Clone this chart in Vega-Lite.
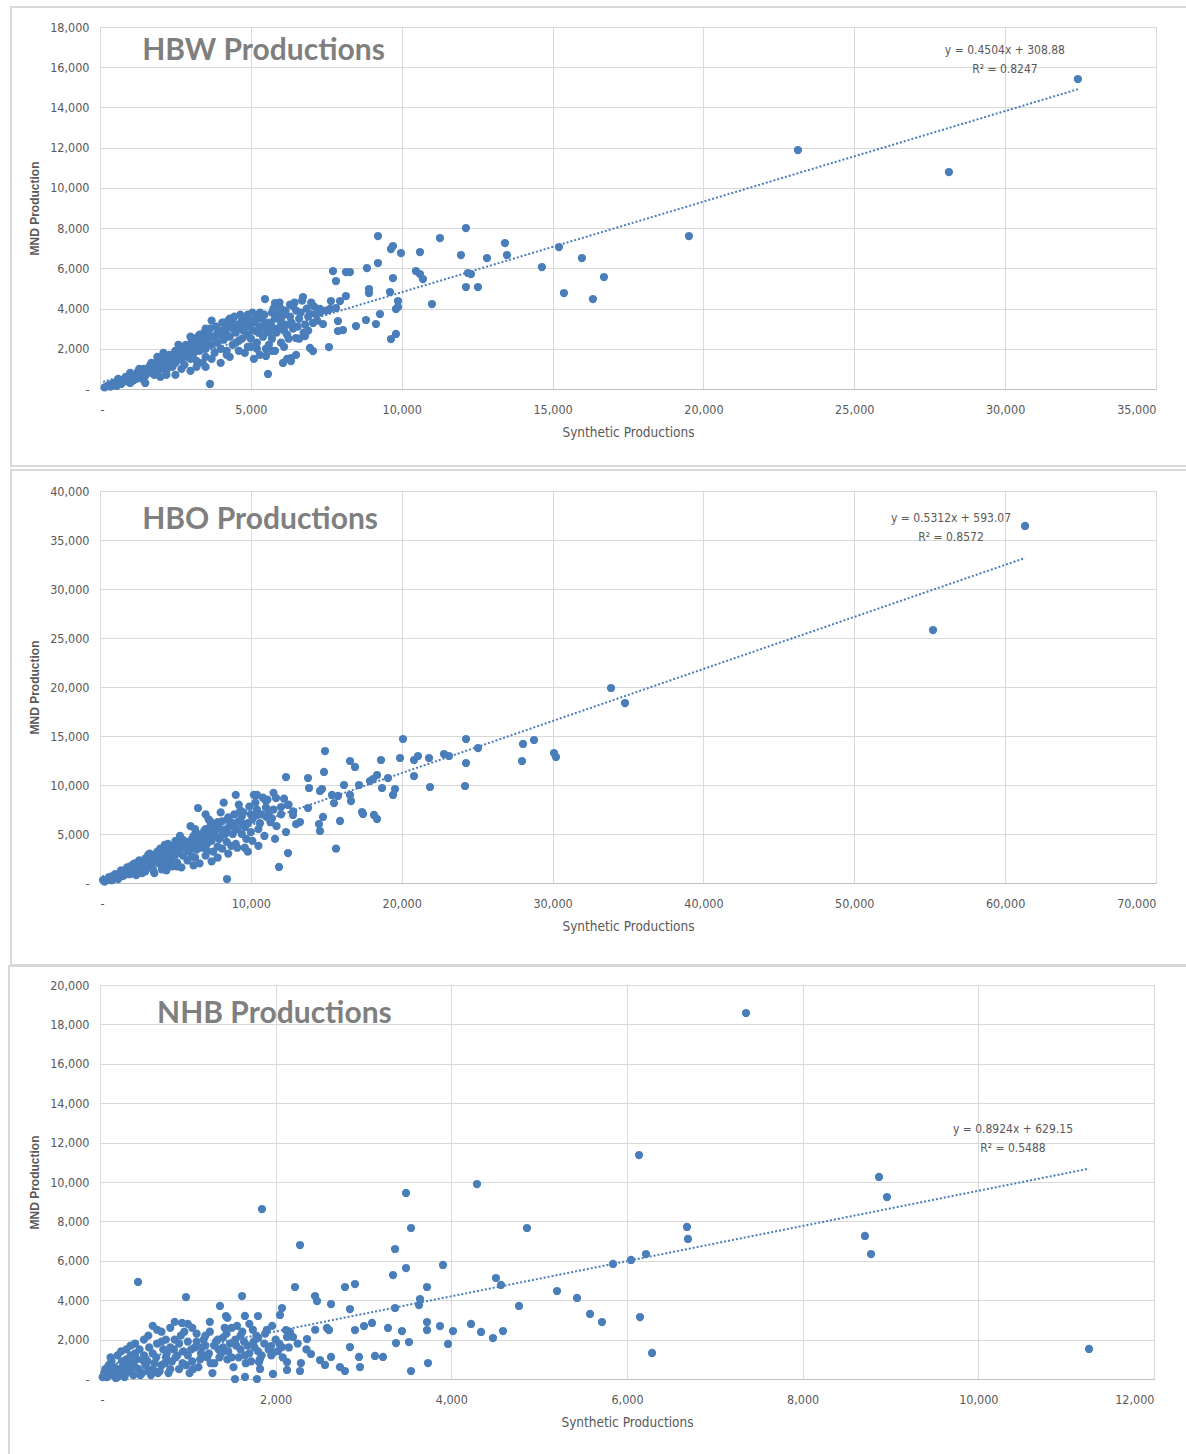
{
  "$schema": "https://vega.github.io/schema/vega-lite/v6.json",
  "background": "white",
  "padding": {"left": 7, "top": 5, "right": 0, "bottom": 0},
  "autosize": {"type": "pad"},
  "spacing": 102,
  "bounds": "flush",
  "config": {
    "view": {"stroke": "#d9d9d9"},
    "axis": {
      "grid": true, "gridColor": "#d9d9d9", "ticks": false, "labelOverlap": false, "tickCount": 30,
      "labelFont": "Liberation Sans Narrow, DejaVu Sans Condensed, Roboto Condensed, Roboto, sans-serif", "labelFontSize": 12.5, "labelColor": "#595959",
      "titleColor": "#595959"
    },
    "axisX": {"domainColor": "#bfbfbf", "labelPadding": 14, "titlePadding": 10, "titleFont": "Liberation Sans Narrow, DejaVu Sans Condensed, Roboto Condensed, Roboto, sans-serif", "titleFontSize": 13.5, "titleFontWeight": "normal"},
    "axisY": {"domainColor": "#d9d9d9", "labelPadding": 11, "titlePadding": 8, "titleFont": "Liberation Sans, sans-serif", "titleFontSize": 12, "titleFontWeight": "bold"}
  },
  "datasets": {
    "hbw": [
      {"x":150,"y":80},{"x":250,"y":150},{"x":350,"y":120},{"x":400,"y":250},{"x":500,"y":200},{"x":600,"y":350},{"x":700,"y":250},{"x":800,"y":450},{"x":900,"y":380},{"x":1000,"y":550},{"x":1100,"y":420},{"x":1200,"y":700},{"x":1300,"y":600},{"x":1400,"y":800},{"x":1500,"y":650},{"x":1600,"y":950},{"x":1700,"y":800},{"x":1800,"y":1100},{"x":1900,"y":900},{"x":2000,"y":1250},{"x":2100,"y":1000},{"x":2200,"y":1400},{"x":2300,"y":1150},{"x":2400,"y":1500},{"x":2500,"y":1300},{"x":2600,"y":1700},{"x":2700,"y":1450},{"x":2800,"y":1900},{"x":2900,"y":1600},{"x":3000,"y":2100},{"x":3100,"y":1750},{"x":3200,"y":2300},{"x":3300,"y":1900},{"x":3400,"y":2500},{"x":3500,"y":2000},{"x":3600,"y":2700},{"x":3700,"y":2200},{"x":3800,"y":2600},{"x":3900,"y":2300},{"x":4000,"y":2900},{"x":4100,"y":2450},{"x":4200,"y":3100},{"x":4300,"y":2600},{"x":4400,"y":3300},{"x":4500,"y":2800},{"x":4600,"y":3000},{"x":4700,"y":2500},{"x":4800,"y":3200},{"x":4900,"y":2700},{"x":5000,"y":3400},{"x":5100,"y":2900},{"x":5200,"y":3600},{"x":5300,"y":3100},{"x":5400,"y":2600},{"x":5500,"y":3300},{"x":5600,"y":2800},{"x":5700,"y":3800},{"x":5800,"y":3500},{"x":5900,"y":3000},{"x":6000,"y":4000},{"x":6100,"y":3700},{"x":6200,"y":3200},{"x":6300,"y":4200},{"x":6500,"y":3900},{"x":6700,"y":4400},{"x":6900,"y":3600},{"x":7100,"y":4100},{"x":7300,"y":3800},
      {"x":1500,"y":300},{"x":2000,"y":600},{"x":2500,"y":700},{"x":3000,"y":900},{"x":3500,"y":1100},{"x":4000,"y":1300},{"x":4300,"y":1600},{"x":4800,"y":1800},{"x":5100,"y":1500},{"x":5600,"y":2200},{"x":5800,"y":1900},{"x":6000,"y":2300},{"x":6200,"y":1500},{"x":6500,"y":1700},{"x":5568,"y":746},{"x":3645,"y":249},{"x":5501,"y":1641},{"x":6065,"y":1293},{"x":6330,"y":1541},{"x":6330,"y":1392},
      {"x":1000,"y":300},{"x":1200,"y":500},{"x":1500,"y":900},{"x":1800,"y":700},{"x":2000,"y":1500},{"x":2200,"y":900},{"x":2500,"y":1900},{"x":2800,"y":1200},{"x":3000,"y":1500},{"x":3200,"y":1400},{"x":3300,"y":2700},{"x":3500,"y":1600},{"x":3600,"y":2300},{"x":3800,"y":1800},{"x":4000,"y":2000},{"x":4100,"y":3300},{"x":4200,"y":1900},{"x":4400,"y":2200},{"x":4600,"y":2400},{"x":4700,"y":3400},{"x":4900,"y":2100},{"x":5000,"y":2500},{"x":5200,"y":2300},{"x":5300,"y":3800},{"x":5500,"y":2000},{"x":5700,"y":2500},{"x":5800,"y":4100},{"x":6000,"y":3300},{"x":6200,"y":2700},{"x":6400,"y":3000},{"x":6600,"y":3500},{"x":6800,"y":3200},{"x":7000,"y":4300},
      {"x":2300,"y":1700},{"x":2700,"y":2000},{"x":3100,"y":2500},{"x":3400,"y":1300},{"x":3900,"y":2800},{"x":4300,"y":3500},{"x":4500,"y":2300},{"x":4900,"y":3700},{"x":5100,"y":3300},{"x":5400,"y":3000},{"x":5900,"y":3700},{"x":6300,"y":3600},{"x":1300,"y":1000},{"x":1700,"y":1300},{"x":2100,"y":1800},{"x":2600,"y":2200},{"x":3000,"y":2600},{"x":3500,"y":3000},{"x":3700,"y":3400},{"x":4200,"y":2700},{"x":4400,"y":3000},{"x":5200,"y":2000},{"x":5700,"y":3100},{"x":6100,"y":2900},{"x":6600,"y":2500},{"x":6900,"y":2900},{"x":7200,"y":3400},{"x":7500,"y":3900},
      {"x":300,"y":200},{"x":450,"y":300},{"x":550,"y":150},{"x":650,"y":450},{"x":750,"y":350},{"x":850,"y":600},{"x":950,"y":500},{"x":1050,"y":700},{"x":1150,"y":600},{"x":1250,"y":850},{"x":1350,"y":750},{"x":1450,"y":1000},{"x":1550,"y":850},{"x":1650,"y":1150},{"x":1750,"y":1000},{"x":1850,"y":1300},{"x":1950,"y":1100},{"x":2050,"y":1400},{"x":2150,"y":1200},{"x":2250,"y":1600},{"x":2350,"y":1350},{"x":2450,"y":1750},{"x":2550,"y":1550},{"x":2650,"y":1950},{"x":2750,"y":1700},{"x":2850,"y":2200},{"x":2950,"y":1850},{"x":3050,"y":2400},{"x":3150,"y":2050},{"x":3250,"y":2600},{"x":3350,"y":2200},{"x":3450,"y":2800},{"x":3550,"y":2400},{"x":3650,"y":3000},{"x":3750,"y":2600},{"x":3850,"y":3100},{"x":3950,"y":2700},{"x":4050,"y":3300},{"x":4150,"y":2900},{"x":4250,"y":3400},{"x":4350,"y":3100},{"x":4450,"y":3600},{"x":4550,"y":3200},{"x":4650,"y":3700},{"x":4750,"y":2900},{"x":4850,"y":3500},{"x":4950,"y":3100},{"x":5050,"y":3800},{"x":5150,"y":3400},{"x":5250,"y":2800},{"x":5350,"y":3500},{"x":5450,"y":3700},{"x":5550,"y":3000},{"x":5650,"y":3300},{"x":5750,"y":4000},{"x":5850,"y":2800},{"x":5950,"y":4300},{"x":6050,"y":3100},{"x":6150,"y":3900},{"x":6250,"y":2500},{"x":6350,"y":3300},{"x":6450,"y":4300},{"x":6550,"y":3100},{"x":6650,"y":3800},{"x":6750,"y":2800},{"x":6850,"y":4000},{"x":2200,"y":700},{"x":2700,"y":1000},{"x":3200,"y":1100},{"x":3700,"y":1500},{"x":4200,"y":1700},{"x":4600,"y":1900},{"x":5000,"y":2100},{"x":5300,"y":1700},{"x":5700,"y":1900},{"x":6100,"y":2100},{"x":1000,"y":800},{"x":600,"y":500},{"x":1400,"y":500},{"x":1900,"y":1600},{"x":2400,"y":1100},
      {"x":5800,"y":4276},{"x":5468,"y":4475},{"x":6727,"y":4574},{"x":6396,"y":4127},{"x":5998,"y":3480},
      {"x":9213,"y":7607},{"x":9710,"y":7110},{"x":9644,"y":6961},{"x":9975,"y":6762},{"x":10605,"y":6812},{"x":11268,"y":7508},{"x":12129,"y":8005},{"x":11963,"y":6662},{"x":12196,"y":5768},{"x":12295,"y":5718},{"x":12129,"y":5071},{"x":12527,"y":5071},{"x":7722,"y":5867},{"x":8152,"y":5817},{"x":8285,"y":5817},{"x":7821,"y":5370},{"x":8848,"y":6016},{"x":9213,"y":6265},{"x":9710,"y":5519},{"x":10472,"y":5867},{"x":10605,"y":5718},{"x":10704,"y":5469},{"x":8915,"y":4972},{"x":8915,"y":4773},{"x":9611,"y":4823},{"x":9876,"y":4375},{"x":9876,"y":4077},{"x":9809,"y":3978},{"x":11002,"y":4226},{"x":9279,"y":3729},{"x":8815,"y":3431},{"x":9147,"y":3232},{"x":8484,"y":3132},{"x":8152,"y":4624},{"x":7954,"y":4375},{"x":7655,"y":4375},{"x":7821,"y":4027},{"x":7622,"y":3978},{"x":7887,"y":3381},{"x":7887,"y":2884},{"x":8053,"y":2933},{"x":7291,"y":3978},{"x":7158,"y":3729},{"x":6959,"y":3729},{"x":7390,"y":3232},{"x":7059,"y":3282},{"x":6794,"y":2635},{"x":6495,"y":2536},{"x":9644,"y":2486},{"x":9809,"y":2735},{"x":6959,"y":2039},{"x":7059,"y":1889},{"x":7589,"y":2088},
      {"x":13422,"y":7259},{"x":13488,"y":6662},{"x":12826,"y":6513},{"x":14648,"y":6066},{"x":15211,"y":7060},{"x":15377,"y":4773},{"x":15973,"y":6513},{"x":16338,"y":4475},{"x":16703,"y":5569},{"x":19520,"y":7607},{"x":23132,"y":11883},{"x":28136,"y":10789},{"x":32411,"y":15413}
    ],
    "hbo": [
      {"x":300,"y":150},{"x":500,"y":400},{"x":700,"y":300},{"x":900,"y":700},{"x":1100,"y":500},{"x":1300,"y":900},{"x":1500,"y":700},{"x":1700,"y":1200},{"x":1900,"y":900},{"x":2100,"y":1500},{"x":2300,"y":1100},{"x":2500,"y":1800},{"x":2700,"y":1300},{"x":2900,"y":2100},{"x":3100,"y":1600},{"x":3300,"y":2400},{"x":3500,"y":1400},{"x":3700,"y":2700},{"x":3900,"y":2000},{"x":4100,"y":3000},{"x":4300,"y":1800},{"x":4500,"y":3300},{"x":4700,"y":2400},{"x":4900,"y":3600},{"x":5100,"y":2100},{"x":5300,"y":3900},{"x":5500,"y":2800},{"x":5700,"y":4200},{"x":5900,"y":3200},{"x":6100,"y":4500},{"x":6300,"y":2600},{"x":6500,"y":5000},{"x":6700,"y":3600},{"x":6900,"y":5300},{"x":7100,"y":4000},{"x":7300,"y":5700},{"x":7500,"y":3200},{"x":7700,"y":6000},{"x":7900,"y":4500},{"x":8100,"y":6300},{"x":8300,"y":5000},{"x":8500,"y":6700},{"x":8700,"y":3800},{"x":8900,"y":7000},{"x":9100,"y":5500},{"x":9300,"y":7400},{"x":9500,"y":6000},{"x":9700,"y":4500},{"x":9900,"y":7800},{"x":10100,"y":6500},{"x":10300,"y":8200},{"x":10500,"y":5500},{"x":10700,"y":7000},{"x":10900,"y":4800},{"x":11100,"y":8500},{"x":11300,"y":6200},{"x":11500,"y":7500},{"x":11700,"y":5800},{"x":12000,"y":7000},
      {"x":1500,"y":1100},{"x":2000,"y":900},{"x":2500,"y":1400},{"x":3000,"y":2200},{"x":3500,"y":2800},{"x":4000,"y":2300},{"x":4500,"y":2000},{"x":5000,"y":2900},{"x":5500,"y":4400},{"x":6000,"y":3500},{"x":6500,"y":4000},{"x":7000,"y":2800},{"x":7500,"y":4800},{"x":8000,"y":5500},{"x":8500,"y":3000},{"x":9000,"y":4000},{"x":9500,"y":7200},{"x":10000,"y":5200},{"x":10500,"y":3800},{"x":11000,"y":6800},{"x":7200,"y":6500},{"x":8000,"y":7200},{"x":6000,"y":5800},{"x":5000,"y":4300},{"x":4000,"y":3500},{"x":3000,"y":1200},{"x":2000,"y":1700},{"x":4500,"y":4000},{"x":7800,"y":3700},{"x":8800,"y":6100},{"x":9200,"y":8000},{"x":6200,"y":1800},{"x":7400,"y":2200},{"x":9800,"y":3200},{"x":10200,"y":9000},{"x":10800,"y":8700},{"x":11500,"y":9200},{"x":12500,"y":8000},{"x":13000,"y":6000},{"x":8200,"y":8200},{"x":7000,"y":7000},{"x":9000,"y":9000},
      {"x":200,"y":300},{"x":600,"y":600},{"x":800,"y":300},{"x":1000,"y":900},{"x":1200,"y":400},{"x":1400,"y":1300},{"x":1600,"y":800},{"x":1800,"y":1600},{"x":2200,"y":1900},{"x":2400,"y":800},{"x":2600,"y":2300},{"x":2800,"y":1000},{"x":3200,"y":2900},{"x":3400,"y":1900},{"x":3600,"y":1000},{"x":3800,"y":3200},{"x":4200,"y":2600},{"x":4400,"y":1300},{"x":4600,"y":3800},{"x":4800,"y":1700},{"x":5200,"y":3300},{"x":5400,"y":1600},{"x":5600,"y":3600},{"x":5800,"y":2300},{"x":6400,"y":3400},{"x":6600,"y":2000},{"x":6800,"y":4200},{"x":7200,"y":4600},{"x":7600,"y":5400},{"x":7800,"y":2600},{"x":8400,"y":4200},{"x":8600,"y":5800},{"x":9400,"y":5000},{"x":9600,"y":3600},{"x":10400,"y":7500},{"x":10600,"y":6100},{"x":11200,"y":7200},{"x":11600,"y":4500},{"x":12200,"y":8600},{"x":12800,"y":7300},
      {"x":400,"y":300},{"x":800,"y":500},{"x":1200,"y":800},{"x":1600,"y":1000},{"x":2000,"y":1300},{"x":2400,"y":1600},{"x":2800,"y":1800},{"x":3200,"y":2000},{"x":3600,"y":2300},{"x":4000,"y":2600},{"x":4400,"y":2800},{"x":4800,"y":3100},{"x":5200,"y":3400},{"x":5600,"y":3700},{"x":6000,"y":4000},{"x":6400,"y":4300},{"x":6800,"y":4600},{"x":7200,"y":4900},{"x":7600,"y":5200},{"x":8000,"y":4700},{"x":8400,"y":5500},{"x":8800,"y":5000},{"x":9200,"y":6300},{"x":9600,"y":5700},{"x":10000,"y":7000},{"x":1000,"y":600},{"x":1400,"y":1000},{"x":1800,"y":1400},{"x":2200,"y":1200},{"x":2600,"y":1900},{"x":3000,"y":2500},{"x":3400,"y":2200},{"x":3800,"y":2900},{"x":4200,"y":3500},{"x":4600,"y":2600},{"x":5000,"y":3700},{"x":5400,"y":4200},{"x":5800,"y":3500},{"x":6200,"y":4800},{"x":6600,"y":4400},{"x":7000,"y":5500},{"x":7400,"y":4300},{"x":7800,"y":6200},{"x":8200,"y":5200},{"x":8600,"y":6300},{"x":9000,"y":5500},{"x":9400,"y":6800},{"x":9800,"y":6100},{"x":10400,"y":6900},{"x":11000,"y":7700},{"x":11400,"y":6600},{"x":2300,"y":2000},{"x":3300,"y":3000},{"x":4300,"y":3900},{"x":5300,"y":4800},{"x":6300,"y":5500},{"x":7300,"y":6300},{"x":4100,"y":1400},{"x":5100,"y":1700},{"x":6100,"y":2700},{"x":7100,"y":3300},{"x":8100,"y":3500},{"x":9100,"y":3600},{"x":10100,"y":4300},
      {"x":20086,"y":14694},{"x":24262,"y":14694},{"x":25058,"y":13775},{"x":24262,"y":12245},{"x":24196,"y":9898},{"x":28041,"y":14184},{"x":28770,"y":14592},{"x":27975,"y":12449},{"x":30096,"y":13265},{"x":30228,"y":12857},{"x":14915,"y":13469},{"x":16573,"y":12449},{"x":16904,"y":11837},{"x":18627,"y":12551},{"x":19887,"y":12755},{"x":20815,"y":12551},{"x":21080,"y":12959},{"x":21809,"y":12755},{"x":22804,"y":13163},{"x":23135,"y":12959},{"x":20815,"y":10918},{"x":21876,"y":9796},{"x":14849,"y":11327},{"x":12330,"y":10816},{"x":13788,"y":10714},{"x":13855,"y":9694},{"x":14584,"y":9388},{"x":14717,"y":9592},{"x":15379,"y":8980},{"x":15777,"y":8878},{"x":15512,"y":8163},{"x":16175,"y":10000},{"x":16573,"y":8980},{"x":16639,"y":8367},{"x":17170,"y":10000},{"x":17899,"y":10408},{"x":18098,"y":10612},{"x":18362,"y":11020},{"x":18694,"y":9694},{"x":19092,"y":10714},{"x":19423,"y":8980},{"x":19556,"y":9592},{"x":17368,"y":7245},{"x":17434,"y":7041},{"x":18163,"y":6939},{"x":18362,"y":6531},{"x":15910,"y":6327},{"x":15645,"y":3500},{"x":14518,"y":6020},{"x":14783,"y":6735},{"x":14584,"y":5306},{"x":13788,"y":7653},{"x":13258,"y":6224},{"x":12794,"y":6939},{"x":12330,"y":5204},{"x":12463,"y":3061},{"x":11866,"y":1633},{"x":6496,"y":7653},{"x":8419,"y":408},{"x":10408,"y":8980},{"x":11004,"y":8367},{"x":11667,"y":8673},{"x":11999,"y":7755},{"x":12463,"y":7959},
      {"x":33874,"y":19898},{"x":34802,"y":18367},{"x":55220,"y":25816},{"x":61318,"y":36429}
    ],
    "nhb": [
      {"x":50,"y":300},{"x":100,"y":700},{"x":150,"y":200},{"x":200,"y":500},{"x":250,"y":900},{"x":300,"y":300},{"x":350,"y":1200},{"x":400,"y":600},{"x":450,"y":1500},{"x":500,"y":900},{"x":550,"y":400},{"x":600,"y":1300},{"x":650,"y":1800},{"x":700,"y":700},{"x":750,"y":1100},{"x":800,"y":1600},{"x":850,"y":2000},{"x":900,"y":500},{"x":950,"y":1400},{"x":1000,"y":1900},{"x":1050,"y":900},{"x":1100,"y":2300},{"x":1150,"y":1300},{"x":1200,"y":1700},{"x":1250,"y":2400},{"x":1300,"y":800},{"x":1350,"y":1500},{"x":1400,"y":2100},{"x":1450,"y":1000},{"x":1500,"y":2600},{"x":1550,"y":1700},{"x":1600,"y":2200},{"x":1650,"y":1200},{"x":1700,"y":2800},{"x":1750,"y":1900},{"x":1800,"y":1400},
      {"x":80,"y":100},{"x":120,"y":400},{"x":180,"y":50},{"x":220,"y":300},{"x":280,"y":100},{"x":320,"y":700},{"x":380,"y":200},{"x":420,"y":1000},{"x":480,"y":300},{"x":520,"y":700},{"x":580,"y":200},{"x":620,"y":800},{"x":680,"y":400},{"x":720,"y":1500},{"x":780,"y":300},{"x":820,"y":900},{"x":880,"y":1200},{"x":920,"y":2200},{"x":980,"y":700},{"x":1020,"y":300},{"x":1080,"y":1600},{"x":1120,"y":600},{"x":1180,"y":2000},{"x":1220,"y":1100},{"x":1280,"y":300},{"x":1320,"y":1900},{"x":1380,"y":1300},{"x":1420,"y":2600},{"x":1480,"y":1800},{"x":1520,"y":600},{"x":1580,"y":1100},{"x":1620,"y":2400},{"x":1680,"y":1700},{"x":1720,"y":900},{"x":1780,"y":2200},{"x":1820,"y":1000},{"x":1870,"y":1800},{"x":1900,"y":2500},{"x":1950,"y":1200},{"x":2000,"y":2000},
      {"x":500,"y":2000},{"x":300,"y":1500},{"x":700,"y":2400},{"x":600,"y":2700},{"x":400,"y":1800},{"x":200,"y":1200},{"x":1000,"y":2800},{"x":800,"y":2600},
      {"x":60,"y":500},{"x":90,"y":200},{"x":130,"y":900},{"x":160,"y":600},{"x":200,"y":100},{"x":240,"y":1400},{"x":260,"y":600},{"x":300,"y":1000},{"x":340,"y":400},{"x":370,"y":800},{"x":400,"y":1300},{"x":440,"y":500},{"x":460,"y":200},{"x":500,"y":1200},{"x":540,"y":900},{"x":560,"y":1600},{"x":600,"y":500},{"x":640,"y":1100},{"x":660,"y":300},{"x":700,"y":1900},{"x":740,"y":800},{"x":760,"y":1300},{"x":800,"y":500},{"x":840,"y":1500},{"x":860,"y":1100},{"x":900,"y":1800},{"x":940,"y":800},{"x":960,"y":2400},{"x":1000,"y":1200},{"x":1040,"y":1500},{"x":1060,"y":500},{"x":1100,"y":1900},{"x":1140,"y":1000},{"x":1160,"y":1600},{"x":1200,"y":2200},{"x":1240,"y":1300},{"x":1260,"y":800},{"x":1300,"y":1700},{"x":1340,"y":2000},{"x":1360,"y":1100},{"x":1400,"y":1600},{"x":1440,"y":2300},{"x":1460,"y":1400},{"x":1500,"y":1100},{"x":1540,"y":2000},{"x":1560,"y":2700},{"x":1600,"y":1500},{"x":1640,"y":1900},{"x":1660,"y":800},{"x":1700,"y":1300},{"x":1740,"y":2500},{"x":1760,"y":1600},{"x":1800,"y":2100},{"x":1840,"y":1200},{"x":1880,"y":2300},{"x":1920,"y":1500},{"x":1960,"y":2700},{"x":2040,"y":1800},{"x":2080,"y":1100},{"x":2150,"y":1600},{"x":2250,"y":1800},{"x":2350,"y":1500},{"x":2450,"y":2500},{"x":30,"y":100},{"x":120,"y":1100},{"x":350,"y":1700},{"x":550,"y":2200},{"x":650,"y":2500},{"x":750,"y":2000},{"x":850,"y":2900},{"x":1050,"y":2600},{"x":1250,"y":2900},{"x":1450,"y":3100},{"x":1650,"y":3200},
      {"x":7355,"y":18578},{"x":6137,"y":11370},{"x":8869,"y":10254},{"x":8960,"y":9238},{"x":8709,"y":7259},{"x":8778,"y":6345},{"x":6683,"y":7716},{"x":6694,"y":7107},{"x":6216,"y":6345},{"x":6046,"y":6041},{"x":5841,"y":5838},{"x":6148,"y":3147},{"x":6285,"y":1320},{"x":11260,"y":1523},{"x":4861,"y":7665},{"x":4292,"y":9898},{"x":3484,"y":9442},{"x":3541,"y":7665},{"x":1844,"y":8629},{"x":2277,"y":6800},{"x":3359,"y":6599},{"x":3336,"y":5279},{"x":3484,"y":5634},{"x":3905,"y":5787},{"x":3723,"y":4670},{"x":3643,"y":4061},{"x":3632,"y":3756},{"x":4508,"y":5127},{"x":4565,"y":4772},{"x":5203,"y":4467},{"x":5431,"y":4112},{"x":5579,"y":3300},{"x":5715,"y":2893},{"x":4770,"y":3706},{"x":433,"y":4924},{"x":979,"y":4162},{"x":1617,"y":4213},{"x":1366,"y":3706},{"x":1434,"y":3198},{"x":2220,"y":4670},{"x":2448,"y":4213},{"x":2471,"y":3959},{"x":2630,"y":3807},{"x":2789,"y":4670},{"x":2903,"y":4822},{"x":2846,"y":3553},{"x":1799,"y":3198},{"x":2049,"y":3249},{"x":2072,"y":3604},{"x":934,"y":2843},{"x":3359,"y":3604},{"x":3723,"y":2893},{"x":3723,"y":2487},{"x":3871,"y":2690},{"x":4019,"y":2436},{"x":4224,"y":2792},{"x":4338,"y":2386},{"x":4474,"y":2081},{"x":4588,"y":2436},{"x":3962,"y":1777},{"x":3438,"y":2436},{"x":3518,"y":1878},{"x":3370,"y":1827},{"x":3279,"y":2589},{"x":3541,"y":406},{"x":3734,"y":812},{"x":2903,"y":2487},{"x":3006,"y":2690},{"x":3097,"y":2843},{"x":3131,"y":1168},{"x":3222,"y":1117},{"x":2949,"y":1117},{"x":2960,"y":609},{"x":2732,"y":609},{"x":2789,"y":406},{"x":2846,"y":1624},{"x":2505,"y":964},{"x":2630,"y":1117},{"x":2562,"y":711},{"x":2357,"y":2030},{"x":2402,"y":1269},{"x":2288,"y":812},{"x":2277,"y":406},{"x":2129,"y":863},{"x":2129,"y":457},{"x":2118,"y":2487},{"x":2129,"y":2132},{"x":2163,"y":2386},{"x":2197,"y":2132},{"x":2584,"y":2589},{"x":2607,"y":2487},{"x":2027,"y":1421},{"x":2072,"y":1624},{"x":1810,"y":863},{"x":1822,"y":508},{"x":1947,"y":1675},{"x":1969,"y":1320},{"x":1969,"y":254},{"x":1651,"y":102},{"x":1537,"y":0},{"x":1787,"y":0},{"x":1799,"y":2081}
    ]
  },
  "vconcat": [
    {
      "width": 1056, "height": 362,
      "layer": [
        {
          "data": {"values": [{}]},
          "mark": {"type": "rect", "fill": "transparent", "stroke": "#d9d9d9", "strokeWidth": 2, "clip": false},
          "encoding": {
            "x": {"datum": -2949, "type": "quantitative", "scale": {"domain": [0, 35000], "nice": false}},
            "x2": {"datum": 36388},
            "y": {"datum": 18993, "type": "quantitative", "scale": {"domain": [0, 18000], "nice": false}},
            "y2": {"datum": -3828}
          }
        },
        {
          "data": {"name": "hbw"},
          "mark": {"type": "circle", "size": 68, "color": "#4a7ebb", "opacity": 1},
          "encoding": {
            "x": {"field": "x", "type": "quantitative", "scale": {"domain": [0, 35000], "nice": false},
              "axis": {"title": "Synthetic Productions", "values": [0,5000,10000,15000,20000,25000,30000,35000], "labelExpr": "datum.value == 0 ? '-' : format(datum.value, ',')"}},
            "y": {"field": "y", "type": "quantitative", "scale": {"domain": [0, 18000], "nice": false},
              "axis": {"title": "MND Production", "values": [0,2000,4000,6000,8000,10000,12000,14000,16000,18000], "labelExpr": "datum.value == 0 ? '-' : format(datum.value, ',')"}}
          }
        },
        {
          "data": {"values": [{"x": 100, "y": 353.9}, {"x": 32411, "y": 14906.8}]},
          "mark": {"type": "line", "color": "#4a7ebb", "strokeWidth": 2, "strokeDash": [2, 2]},
          "encoding": {
            "x": {"field": "x", "type": "quantitative", "title": "Synthetic Productions"},
            "y": {"field": "y", "type": "quantitative", "title": "MND Production"}
          }
        },
        {
          "data": {"values": [{"label": "HBW Productions"}]},
          "mark": {"type": "text", "align": "left", "baseline": "middle", "font": "Lato", "fontSize": 30, "fontWeight": "bold", "color": "#7f7f7f"},
          "encoding": {"text": {"field": "label"}, "x": {"datum": 1400}, "y": {"datum": 16805}}
        },
        {
          "data": {"values": [{"label": "y = 0.4504x + 308.88\nR² = 0.8247"}]},
          "mark": {"type": "text", "align": "center", "baseline": "middle", "lineBreak": "\n", "lineHeight": 19, "font": "Liberation Sans Narrow, DejaVu Sans Condensed, Roboto Condensed, Roboto, sans-serif", "fontSize": 12, "color": "#595959"},
          "encoding": {"text": {"field": "label"}, "x": {"datum": 29992}, "y": {"datum": 16855}}
        }
      ]
    },
    {
      "width": 1056, "height": 392,
      "layer": [
        {
          "data": {"values": [{}]},
          "mark": {"type": "rect", "fill": "transparent", "stroke": "#d9d9d9", "strokeWidth": 2, "clip": false},
          "encoding": {
            "x": {"datum": -5900, "type": "quantitative", "scale": {"domain": [0, 70000], "nice": false}},
            "x2": {"datum": 72787},
            "y": {"datum": 42143, "type": "quantitative", "scale": {"domain": [0, 40000], "nice": false}},
            "y2": {"datum": -8367}
          }
        },
        {
          "data": {"name": "hbo"},
          "mark": {"type": "circle", "size": 68, "color": "#4a7ebb", "opacity": 1},
          "encoding": {
            "x": {"field": "x", "type": "quantitative", "scale": {"domain": [0, 70000], "nice": false},
              "axis": {"title": "Synthetic Productions", "values": [0,10000,20000,30000,40000,50000,60000,70000], "labelExpr": "datum.value == 0 ? '-' : format(datum.value, ',')"}},
            "y": {"field": "y", "type": "quantitative", "scale": {"domain": [0, 40000], "nice": false},
              "axis": {"title": "MND Production", "values": [0,5000,10000,15000,20000,25000,30000,35000,40000], "labelExpr": "datum.value == 0 ? '-' : format(datum.value, ',')"}}
          }
        },
        {
          "data": {"values": [{"x": 150, "y": 672.8}, {"x": 61318, "y": 33165}]},
          "mark": {"type": "line", "color": "#4a7ebb", "strokeWidth": 2, "strokeDash": [2, 2]},
          "encoding": {
            "x": {"field": "x", "type": "quantitative", "title": "Synthetic Productions"},
            "y": {"field": "y", "type": "quantitative", "title": "MND Production"}
          }
        },
        {
          "data": {"values": [{"label": "HBO Productions"}]},
          "mark": {"type": "text", "align": "left", "baseline": "middle", "font": "Lato", "fontSize": 30, "fontWeight": "bold", "color": "#7f7f7f"},
          "encoding": {"text": {"field": "label"}, "x": {"datum": 2800}, "y": {"datum": 37041}}
        },
        {
          "data": {"values": [{"label": "y = 0.5312x + 593.07\nR² = 0.8572"}]},
          "mark": {"type": "text", "align": "center", "baseline": "middle", "lineBreak": "\n", "lineHeight": 19, "font": "Liberation Sans Narrow, DejaVu Sans Condensed, Roboto Condensed, Roboto, sans-serif", "fontSize": 12, "color": "#595959"},
          "encoding": {"text": {"field": "label"}, "x": {"datum": 56413}, "y": {"datum": 37245}}
        }
      ]
    },
    {
      "width": 1054, "height": 394,
      "layer": [
        {
          "data": {"values": [{}]},
          "mark": {"type": "rect", "fill": "transparent", "stroke": "#d9d9d9", "strokeWidth": 2, "clip": false},
          "encoding": {
            "x": {"datum": -1036, "type": "quantitative", "scale": {"domain": [0, 12000], "nice": false}},
            "x2": {"datum": 12478},
            "y": {"datum": 20964, "type": "quantitative", "scale": {"domain": [0, 20000], "nice": false}},
            "y2": {"datum": -4162}
          }
        },
        {
          "data": {"name": "nhb"},
          "mark": {"type": "circle", "size": 68, "color": "#4a7ebb", "opacity": 1},
          "encoding": {
            "x": {"field": "x", "type": "quantitative", "scale": {"domain": [0, 12000], "nice": false},
              "axis": {"title": "Synthetic Productions", "values": [0,2000,4000,6000,8000,10000,12000], "labelExpr": "datum.value == 0 ? '-' : format(datum.value, ',')"}},
            "y": {"field": "y", "type": "quantitative", "scale": {"domain": [0, 20000], "nice": false},
              "axis": {"title": "MND Production", "tickCount": 30, "values": [0,2000,4000,6000,8000,10000,12000,14000,16000,18000,20000], "labelExpr": "datum.value == 0 ? '-' : format(datum.value, ',')"}}
          }
        },
        {
          "data": {"values": [{"x": 50, "y": 673.8}, {"x": 11260, "y": 10677.6}]},
          "mark": {"type": "line", "color": "#4a7ebb", "strokeWidth": 2, "strokeDash": [2, 2]},
          "encoding": {
            "x": {"field": "x", "type": "quantitative", "title": "Synthetic Productions"},
            "y": {"field": "y", "type": "quantitative", "title": "MND Production"}
          }
        },
        {
          "data": {"values": [{"label": "NHB Productions"}]},
          "mark": {"type": "text", "align": "left", "baseline": "middle", "font": "Lato", "fontSize": 30, "fontWeight": "bold", "color": "#7f7f7f"},
          "encoding": {"text": {"field": "label"}, "x": {"datum": 650}, "y": {"datum": 18527}}
        },
        {
          "data": {"values": [{"label": "y = 0.8924x + 629.15\nR² = 0.5488"}]},
          "mark": {"type": "text", "align": "center", "baseline": "middle", "lineBreak": "\n", "lineHeight": 19, "font": "Liberation Sans Narrow, DejaVu Sans Condensed, Roboto Condensed, Roboto, sans-serif", "fontSize": 12, "color": "#595959"},
          "encoding": {"text": {"field": "label"}, "x": {"datum": 10394}, "y": {"datum": 12690}}
        }
      ]
    }
  ]
}
